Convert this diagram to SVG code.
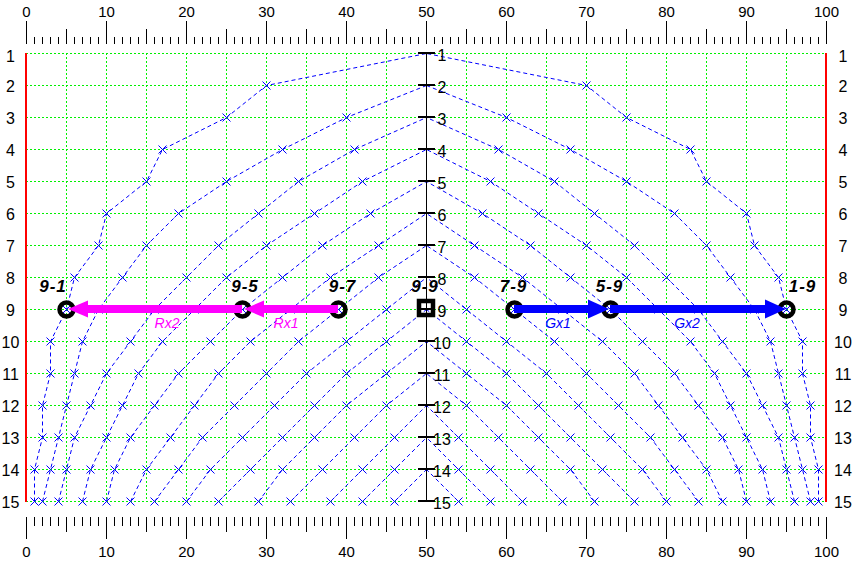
<svg xmlns="http://www.w3.org/2000/svg" width="853" height="563" viewBox="0 0 853 563">
<style>
text { font-family: "Liberation Sans", Arial, Helvetica, sans-serif; fill: #000; }
.rl { font-size: 15px; text-anchor: middle; }
.row { font-size: 16px; text-anchor: middle; }
.tick { stroke: #000; fill: none; }
.grid { stroke: #00f000; stroke-width: 1; stroke-dasharray: 2 2; fill: none; }
.red { stroke: #ff0000; stroke-width: 2; }
.curve { stroke: #0000ff; stroke-width: 1; stroke-dasharray: 4 3; fill: none; marker-start: url(#xm); marker-mid: url(#xm); }
.node { fill: none; stroke: #000; stroke-width: 4.5; }
.nl { font-size: 17px; font-weight: bold; font-style: italic; text-anchor: middle; letter-spacing: 1px; }
.al { font-size: 14px; font-style: italic; text-anchor: middle; }
.mag { stroke: #ff00ff; stroke-width: 8; fill: none; marker-end: url(#ahM); }
.blu { stroke: #0000ff; stroke-width: 8; fill: none; marker-end: url(#ahB); }
</style>
<defs>
<marker id="xm" markerUnits="userSpaceOnUse" markerWidth="10" markerHeight="10" refX="5" refY="5" orient="0" overflow="visible">
<path d="M1,1 L9,9 M9,1 L1,9" stroke="#0000ff" stroke-width="1" fill="none"/>
</marker>
<marker id="ahM" markerUnits="userSpaceOnUse" markerWidth="21" markerHeight="18" refX="0" refY="9" orient="auto" overflow="visible">
<path d="M0,0.5 L20,9 L0,17.5 Z" fill="#ff00ff"/>
</marker>
<marker id="ahB" markerUnits="userSpaceOnUse" markerWidth="22" markerHeight="19" refX="0" refY="9.5" orient="auto" overflow="visible">
<path d="M0,0 L21,9.5 L0,19 Z" fill="#0000ff"/>
</marker>
</defs>
<rect width="853" height="563" fill="#fff"/>

<g id="ruler-top">
<line class="tick" x1="26" y1="40.5" x2="827" y2="40.5" stroke-width="7" stroke-dasharray="1 7"/>
<line class="tick" x1="26" y1="36.5" x2="827" y2="36.5" stroke-width="15" stroke-dasharray="1 39"/>
<line class="tick" x1="26" y1="32.5" x2="827" y2="32.5" stroke-width="23" stroke-dasharray="1 79"/>
<text class="rl" x="26.5" y="17">0</text><text class="rl" x="106.5" y="17">10</text><text class="rl" x="186.5" y="17">20</text><text class="rl" x="266.5" y="17">30</text><text class="rl" x="346.5" y="17">40</text><text class="rl" x="426.5" y="17">50</text><text class="rl" x="506.5" y="17">60</text><text class="rl" x="586.5" y="17">70</text><text class="rl" x="666.5" y="17">80</text><text class="rl" x="746.5" y="17">90</text><text class="rl" x="826.5" y="17">100</text>
</g>
<g id="ruler-bottom">
<line class="tick" x1="26" y1="521.5" x2="827" y2="521.5" stroke-width="9" stroke-dasharray="1 7"/>
<line class="tick" x1="26" y1="524.5" x2="827" y2="524.5" stroke-width="15" stroke-dasharray="1 39"/>
<line class="tick" x1="26" y1="528" x2="827" y2="528" stroke-width="22" stroke-dasharray="1 79"/>
<text class="rl" x="26.5" y="557">0</text><text class="rl" x="106.5" y="557">10</text><text class="rl" x="186.5" y="557">20</text><text class="rl" x="266.5" y="557">30</text><text class="rl" x="346.5" y="557">40</text><text class="rl" x="426.5" y="557">50</text><text class="rl" x="506.5" y="557">60</text><text class="rl" x="586.5" y="557">70</text><text class="rl" x="666.5" y="557">80</text><text class="rl" x="746.5" y="557">90</text><text class="rl" x="826.5" y="557">100</text>
</g>

<g id="grid">
<path class="grid" d="M66.5,53V501M106.5,53V501M146.5,53V501M186.5,53V501M226.5,53V501M266.5,53V501M306.5,53V501M346.5,53V501M386.5,53V501M466.5,53V501M506.5,53V501M546.5,53V501M586.5,53V501M626.5,53V501M666.5,53V501M706.5,53V501M746.5,53V501M786.5,53V501"/>
<path class="grid" d="M26,53.5H826M26,85.5H826M26,117.5H826M26,149.5H826M26,181.5H826M26,213.5H826M26,245.5H826M26,277.5H826M26,309.5H826M26,341.5H826M26,373.5H826M26,405.5H826M26,437.5H826M26,469.5H826M26,501.5H826"/>
<line class="red" x1="26" y1="53" x2="26" y2="502"/>
<line class="red" x1="826" y1="53" x2="826" y2="502"/>
</g>

<g id="row-labels">
<text class="row" x="10.5" y="62">1</text><text class="row" x="10.5" y="92">2</text><text class="row" x="10.5" y="124">3</text><text class="row" x="10.5" y="156">4</text><text class="row" x="10.5" y="188">5</text><text class="row" x="10.5" y="220">6</text><text class="row" x="10.5" y="252">7</text><text class="row" x="10.5" y="284">8</text><text class="row" x="10.5" y="316">9</text><text class="row" x="10.5" y="348">10</text><text class="row" x="10.5" y="380">11</text><text class="row" x="10.5" y="412">12</text><text class="row" x="10.5" y="444">13</text><text class="row" x="10.5" y="476">14</text><text class="row" x="10.5" y="508">15</text>
<text class="row" x="843" y="62">1</text><text class="row" x="843" y="92">2</text><text class="row" x="843" y="124">3</text><text class="row" x="843" y="156">4</text><text class="row" x="843" y="188">5</text><text class="row" x="843" y="220">6</text><text class="row" x="843" y="252">7</text><text class="row" x="843" y="284">8</text><text class="row" x="843" y="316">9</text><text class="row" x="843" y="348">10</text><text class="row" x="843" y="380">11</text><text class="row" x="843" y="412">12</text><text class="row" x="843" y="444">13</text><text class="row" x="843" y="476">14</text><text class="row" x="843" y="508">15</text>
</g>

<g id="curves" transform="translate(0.5,0.5)">
<polyline class="curve" points="34,501 34,469 42,437 42,405 50,373 50,341 66,309 74,277 98,245 106,213 146,181 162,149 226,117 266,85 426,53"/>
<polyline class="curve" points="818,501 818,469 810,437 810,405 802,373 802,341 786,309 778,277 754,245 746,213 706,181 690,149 626,117 586,85 426,53"/>
<polyline class="curve" points="42,501 50,469 58,437 66,405 74,373 82,341 98,309 122,277 146,245 178,213 226,181 282,149 346,117 426,85"/>
<polyline class="curve" points="810,501 802,469 794,437 786,405 778,373 770,341 754,309 730,277 706,245 674,213 626,181 570,149 506,117 426,85"/>
<polyline class="curve" points="58,501 66,469 74,437 90,405 106,373 130,341 154,309 186,277 218,245 258,213 298,181 354,149 426,117"/>
<polyline class="curve" points="794,501 786,469 778,437 762,405 746,373 722,341 698,309 666,277 634,245 594,213 554,181 498,149 426,117"/>
<polyline class="curve" points="82,501 90,469 106,437 122,405 138,373 162,341 194,309 226,277 266,245 314,213 362,181 426,149"/>
<polyline class="curve" points="770,501 762,469 746,437 730,405 714,373 690,341 658,309 626,277 586,245 538,213 490,181 426,149"/>
<polyline class="curve" points="106,501 114,469 130,437 154,405 178,373 210,341 242,309 282,277 322,245 370,213 426,181"/>
<polyline class="curve" points="746,501 738,469 722,437 698,405 674,373 642,341 610,309 570,277 530,245 482,213 426,181"/>
<polyline class="curve" points="130,501 146,469 170,437 194,405 218,373 250,341 290,309 330,277 378,245 426,213"/>
<polyline class="curve" points="722,501 706,469 682,437 658,405 634,373 602,341 562,309 522,277 474,245 426,213"/>
<polyline class="curve" points="154,501 178,469 202,437 234,405 266,373 298,341 338,309 378,277 426,245"/>
<polyline class="curve" points="698,501 674,469 650,437 618,405 586,373 554,341 514,309 474,277 426,245"/>
<polyline class="curve" points="186,501 210,469 242,437 274,405 306,373 346,341 386,309 426,277"/>
<polyline class="curve" points="666,501 642,469 610,437 578,405 546,373 506,341 466,309 426,277"/>
<polyline class="curve" points="218,501 250,469 282,437 314,405 346,373 386,341 426,309"/>
<polyline class="curve" points="634,501 602,469 570,437 538,405 506,373 466,341 426,309"/>
<polyline class="curve" points="258,501 282,469 314,437 346,405 386,373 426,341"/>
<polyline class="curve" points="594,501 570,469 538,437 506,405 466,373 426,341"/>
<polyline class="curve" points="290,501 322,469 354,437 386,405 426,373"/>
<polyline class="curve" points="562,501 530,469 498,437 466,405 426,373"/>
<polyline class="curve" points="330,501 362,469 394,437 426,405"/>
<polyline class="curve" points="522,501 490,469 458,437 426,405"/>
<polyline class="curve" points="362,501 394,469 426,437"/>
<polyline class="curve" points="490,501 458,469 426,437"/>
<polyline class="curve" points="394,501 426,469"/>
<polyline class="curve" points="458,501 426,469"/>
</g>

<g id="axis">
<line x1="426.5" y1="53" x2="426.5" y2="501" stroke="#000" stroke-width="1"/>
<path class="tick" stroke-width="2" d="M418,53H435M418,85H435M418,117H435M418,149H435M418,181H435M418,213H435M418,245H435M418,277H435M418,309H435M418,341H435M418,373H435M418,405H435M418,437H435M418,469H435M418,501H435"/>
<text class="row" x="442" y="61">1</text><text class="row" x="442" y="93">2</text><text class="row" x="442" y="125">3</text><text class="row" x="442" y="157">4</text><text class="row" x="442" y="189">5</text><text class="row" x="442" y="221">6</text><text class="row" x="442" y="253">7</text><text class="row" x="442" y="285">8</text><text class="row" x="442" y="317">9</text><text class="row" x="442" y="349">10</text><text class="row" x="442" y="381">11</text><text class="row" x="442" y="413">12</text><text class="row" x="442" y="445">13</text><text class="row" x="442" y="477">14</text><text class="row" x="442" y="509">15</text>
</g>

<g id="node-9-1"><circle class="node" cx="66.5" cy="309.5" r="7"/><text class="nl" x="53" y="292">9-1</text></g>
<g id="node-9-5"><circle class="node" cx="242.5" cy="309.5" r="7"/><text class="nl" x="245" y="292">9-5</text></g>
<g id="node-9-7"><circle class="node" cx="338.5" cy="309.5" r="7"/><text class="nl" x="342.5" y="292">9-7</text></g>
<g id="node-9-9"><rect class="node" x="419" y="301" width="14" height="14"/><text class="nl" x="425" y="292">9-9</text></g>
<g id="node-7-9"><circle class="node" cx="514.5" cy="309.5" r="7"/><text class="nl" x="513.5" y="292">7-9</text></g>
<g id="node-5-9"><circle class="node" cx="610.5" cy="309.5" r="7"/><text class="nl" x="609.5" y="292">5-9</text></g>
<g id="node-1-9"><circle class="node" cx="786.5" cy="309.5" r="7"/><text class="nl" x="802.5" y="292">1-9</text></g>

<g id="connectors">
<line class="mag" x1="338" y1="309" x2="264" y2="309"/>
<line class="mag" x1="242" y1="309" x2="88" y2="309"/>
<line class="blu" x1="514" y1="309" x2="588" y2="309"/>
<line class="blu" x1="610" y1="309" x2="765" y2="309"/>
<text class="al" x="286" y="328" style="fill:#ff00ff">Rx1</text>
<text class="al" x="167" y="328" style="fill:#ff00ff">Rx2</text>
<text class="al" x="558" y="328" style="fill:#0000ff">Gx1</text>
<text class="al" x="687" y="328" style="fill:#0000ff">Gx2</text>
</g>
</svg>
